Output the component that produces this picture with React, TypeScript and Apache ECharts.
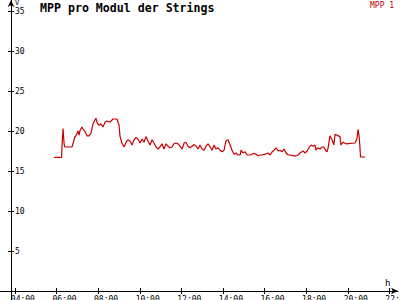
import React, { useEffect, useRef } from "react";
import * as echarts from "echarts";

const title = "MPP pro Modul der Strings";
const seriesName = "MPP 1";
const xTicks = [4, 6, 8, 10, 12, 14, 16, 18, 20, 22];
const yTicks = [5, 10, 15, 20, 25, 30, 35];

// time in hours of day
const hours = [
  5.88, 6.24, 6.26, 6.31, 6.36, 6.4, 6.74, 6.79, 6.87, 6.93, 7.03, 7.08, 7.13, 7.22, 7.27, 7.37, 7.46,
  7.56, 7.65, 7.75, 7.89, 7.94, 7.99, 8.04, 8.13, 8.23, 8.33, 8.42, 8.57, 8.71, 8.9, 9.0, 9.05, 9.14,
  9.24, 9.34, 9.43, 9.53, 9.63, 9.72, 9.82, 9.91, 10.01, 10.11, 10.2, 10.3, 10.39, 10.49, 10.59, 10.68,
  10.78, 10.88, 10.97, 11.07, 11.16, 11.26, 11.36, 11.45, 11.55, 11.64, 11.74, 11.84, 11.93, 12.03,
  12.13, 12.22, 12.32, 12.41, 12.51, 12.61, 12.7, 12.8, 12.89, 12.99, 13.09, 13.18, 13.28, 13.38,
  13.47, 13.57, 13.66, 13.76, 13.86, 13.95, 14.05, 14.14, 14.24, 14.34, 14.43, 14.53, 14.63, 14.72,
  14.82, 14.87, 14.96, 15.06, 15.16, 15.3, 15.39, 15.49, 15.59, 15.68, 15.78, 15.88, 16.02, 16.16,
  16.26, 16.36, 16.45, 16.55, 16.65, 16.74, 16.84, 16.93, 17.03, 17.13, 17.22, 17.37, 17.51, 17.61,
  17.7, 17.85, 17.94, 18.04, 18.13, 18.23, 18.33, 18.42, 18.47, 18.56, 18.66, 18.76, 18.85, 18.95,
  19.0, 19.05, 19.14, 19.24, 19.33, 19.38, 19.62, 19.67, 19.77, 19.91, 20.35, 20.44, 20.49, 20.54,
  20.59, 20.61, 20.83,
];

// MPP 1 values in V
const mpp1 = [
  16.7, 16.7, 18.2, 20.3, 18.4, 18.0, 18.0, 18.4, 19.25, 19.4, 20.0, 19.5, 20.1, 20.5, 20.25, 19.9, 19.4,
  19.4, 19.7, 20.9, 21.6, 21.1, 20.9, 20.7, 20.9, 20.5, 21.1, 21.25, 21.1, 21.5, 21.5, 20.75, 19.3, 18.5,
  18.0, 18.6, 18.9, 18.75, 18.25, 18.9, 19.2, 19.0, 18.5, 19.0, 18.6, 19.3, 18.75, 18.25, 18.9, 18.5,
  18.0, 17.75, 18.0, 18.4, 17.75, 18.4, 18.1, 17.9, 18.0, 18.4, 18.5, 18.4, 18.1, 17.75,
  18.5, 18.6, 18.1, 17.9, 18.1, 18.3, 18.1, 17.75, 18.25, 17.75, 17.6, 18.1, 18.4, 18.0,
  17.6, 18.25, 17.75, 17.9, 17.6, 17.4, 17.6, 18.75, 18.9, 18.25, 17.6, 17.1, 17.25, 17.0,
  17.0, 17.6, 17.25, 17.4, 17.0, 17.0, 17.1, 17.2, 17.1, 16.9, 17.0, 17.0, 17.1, 17.25,
  17.0, 17.4, 17.6, 17.9, 17.5, 17.6, 17.4, 17.75, 17.25, 17.0, 17.0, 16.9, 16.9, 17.0,
  17.25, 17.5, 17.25, 17.5, 17.9, 18.25, 18.1, 18.25, 17.6, 17.9, 17.75, 18.0, 18.0, 17.5,
  17.4, 17.9, 19.4, 18.9, 18.25, 19.6, 19.3, 18.25, 18.6, 18.4, 18.5, 19.1, 20.2, 19.4,
  17.6, 16.75, 16.75,
];

const FONT = "DejaVu Sans Mono";
const X_MIN = 3.28;
const X_MAX = 22.41;
const Y_MIN = -1.125;
const Y_MAX = 36.375;

const fmt = (v: number) => {
  const h = Math.round(v);
  return (h < 10 ? "0" : "") + h + ":00";
};

export default function App() {
  const ref = useRef<HTMLDivElement>(null);
  useEffect(() => {
    if (!ref.current) return;
    const chart = echarts.init(ref.current, undefined, { renderer: "svg" });
    const data = hours.map((h, i) => [h, mpp1[i]]);
    const axisColor = "#000";
    chart.setOption({
      animation: false,
      backgroundColor: "#fff",
      grid: { left: 0, right: 2, top: 0, bottom: 0, containLabel: false, outerBoundsMode: "none" },
      xAxis: [
        {
          type: "value",
          min: X_MIN,
          max: X_MAX,
          axisLine: {
            onZero: true,
            onZeroAxisIndex: 0,
            symbol: ["none", "arrow"],
            symbolSize: [5, 7],
            lineStyle: { color: axisColor, width: 1 },
          },
          axisTick: { customValues: xTicks, length: 3, lineStyle: { color: axisColor } },
          axisLabel: {
            customValues: xTicks.map((t) => t - 0.2),
            formatter: (v: number) => fmt(v),
            align: "left",
            verticalAlign: "top",
            margin: -5,
            lineHeight: 8,
            color: "#000",
            fontFamily: FONT,
            fontSize: 8,
          },
          splitLine: { show: false },
        },
        {
          type: "value",
          min: X_MIN,
          max: X_MAX,
          position: "bottom",
          axisLine: { show: false, onZero: true, onZeroAxisIndex: 0 },
          axisTick: { inside: true, customValues: xTicks, length: 3, lineStyle: { color: axisColor } },
          axisLabel: { show: false },
          splitLine: { show: false },
        },
      ],
      yAxis: [
        {
          type: "value",
          min: Y_MIN,
          max: Y_MAX,
          position: "left",
          offset: -11,
          axisLine: {
            show: true,
            onZero: false,
            symbol: ["none", "arrow"],
            symbolSize: [5, 7],
            lineStyle: { color: axisColor, width: 1 },
          },
          axisTick: { show: true, customValues: yTicks, length: 3, lineStyle: { color: axisColor } },
          axisLabel: {
            customValues: yTicks,
            inside: true,
            margin: 4,
            color: "#000",
            fontFamily: FONT,
            fontSize: 8,
          },
          splitLine: { show: false },
        },
        {
          type: "value",
          min: Y_MIN,
          max: Y_MAX,
          position: "left",
          offset: -11,
          axisLine: { show: false, onZero: false },
          axisTick: { show: true, inside: true, customValues: yTicks, length: 3, lineStyle: { color: axisColor } },
          axisLabel: { show: false },
          splitLine: { show: false },
        },
      ],
      graphic: [
        {
          type: "text",
          left: 40,
          top: 2,
          style: { text: title, fontFamily: FONT, fontSize: 11.6, fontWeight: "bold", fill: "#000" },
        },
        {
          type: "text",
          left: 370,
          top: 1,
          style: { text: seriesName, fontFamily: FONT, fontSize: 8, fill: "#c00000" },
        },
        {
          type: "text",
          left: 15,
          top: -1,
          style: { text: "V", fontFamily: FONT, fontSize: 7, fill: "#000" },
        },
        {
          type: "text",
          left: 385,
          top: 278,
          style: { text: "h", fontFamily: FONT, fontSize: 9, fill: "#000" },
        },
      ],
      series: [
        {
          name: seriesName,
          type: "line",
          xAxisIndex: 0,
          yAxisIndex: 0,
          data,
          showSymbol: false,
          lineStyle: { color: "#c80000", width: 1.2 },
          itemStyle: { color: "#c80000" },
        },
      ],
    });
    return () => chart.dispose();
  }, []);
  return <div ref={ref} style={{ position: "fixed", left: 0, top: 0, width: 400, height: 300 }} />;
}
